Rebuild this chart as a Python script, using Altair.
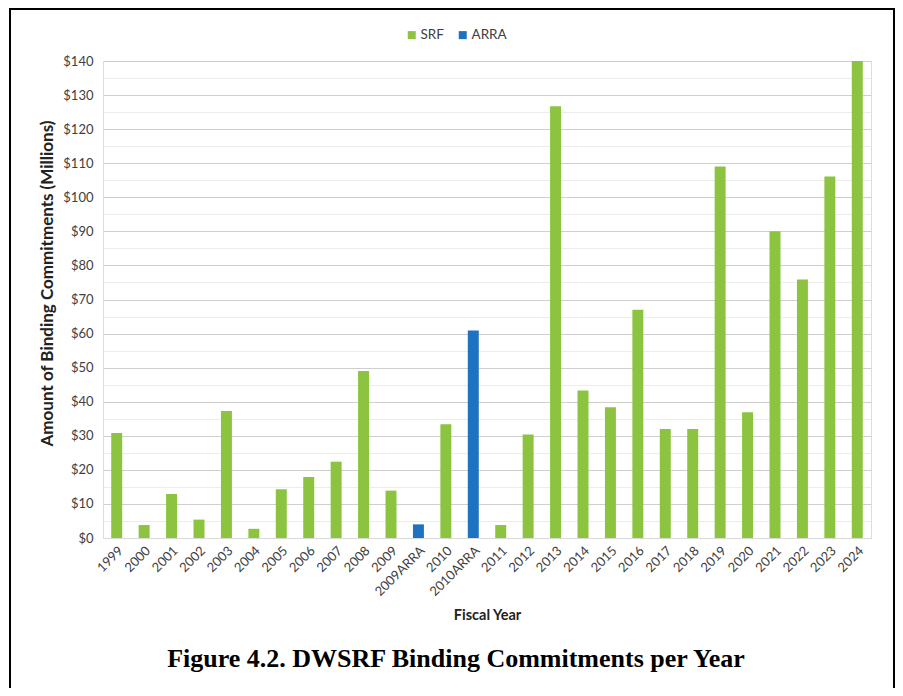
import altair as alt
import pandas as pd

years = ["1999", "2000", "2001", "2002", "2003", "2004", "2005", "2006", "2007",
         "2008", "2009", "2009ARRA", "2010", "2010ARRA", "2011", "2012", "2013",
         "2014", "2015", "2016", "2017", "2018", "2019", "2020", "2021", "2022",
         "2023", "2024"]
amounts = [30.8, 3.8, 12.9, 5.4, 37.3, 2.7, 14.3, 17.9, 22.4,
           49.0, 13.9, 4.0, 33.4, 60.9, 3.8, 30.4, 126.7,
           43.3, 38.4, 67.0, 32.0, 32.0, 109.0, 36.9, 90.0, 75.9,
           106.1, 140.0]
programs = ["SRF"] * 11 + ["ARRA", "SRF", "ARRA"] + ["SRF"] * 14
caption = ["Figure 4.2. DWSRF Binding Commitments per Year"]

df = pd.DataFrame({"year": years, "amount": amounts, "program": programs})

GREEN = "#8cc43f"
BLUE = "#1f72bf"
FONT = "Lato"

bars = alt.Chart(df).mark_bar().encode(
    x=alt.X("year:N", sort=years,
            scale=alt.Scale(paddingInner=0.6, paddingOuter=0.3),
            axis=alt.Axis(title="Fiscal Year", labelAngle=-45, labelFontSize=13,
                          labelColor="#404040", labelFont=FONT, ticks=False,
                          domainColor="#d9d9d9", labelPadding=6,
                          titleFont=FONT, titleFontSize=14.5, titleFontWeight="bold",
                          titleColor="#222222", titlePadding=10)),
    y=alt.Y("amount:Q", scale=alt.Scale(domain=[0, 140], nice=False),
            axis=alt.Axis(title="Amount of Binding Commitments (Millions)",
                          values=list(range(0, 145, 5)),
                          labelExpr="datum.value % 10 === 0 ? '$' + datum.value : ''",
                          gridColor=alt.condition("datum.value % 10 === 0",
                                                  alt.value("#cfcfcf"), alt.value("#ececec")),
                          domain=False, ticks=False, labelPadding=10,
                          labelFontSize=13, labelColor="#404040", labelFont=FONT,
                          titleFont=FONT, titleFontSize=17, titleFontWeight="bold",
                          titleColor="#222222", titlePadding=6, titleY=222)),
    color=alt.Color("program:N",
                    scale=alt.Scale(domain=["SRF", "ARRA"], range=[GREEN, BLUE]),
                    legend=alt.Legend(title=None, orient="none", direction="horizontal",
                                      legendX=302, legendY=-33, symbolType="square",
                                      symbolSize=64, labelFontSize=13.5, labelFont=FONT,
                                      labelColor="#404040", columnPadding=12,
                                      labelOffset=2, symbolStrokeWidth=0)),
)

cap = alt.Chart(pd.DataFrame({"t": caption})).mark_text(
    font="Liberation Serif", fontSize=26, fontWeight="bold", color="#000000",
    baseline="middle", align="center"
).encode(text="t:N", x=alt.value(353), y=alt.value(598))

frame = alt.Chart(pd.DataFrame({"a": [0]})).mark_rect(
    filled=False, stroke="#000000", strokeWidth=2
).encode(
    x=alt.value(-93), x2=alt.value(791), y=alt.value(-52), y2=alt.value(700)
)

chart = alt.layer(bars, cap, frame).properties(
    width=768, height=477,
    autosize=alt.AutoSizeParams(type="none"),
    padding={"left": 95, "top": 53, "right": 24, "bottom": 150},
).configure_view(stroke=None).configure(background="white")

chart.save("out.html", embed_options={"renderer": "svg", "actions": False})
